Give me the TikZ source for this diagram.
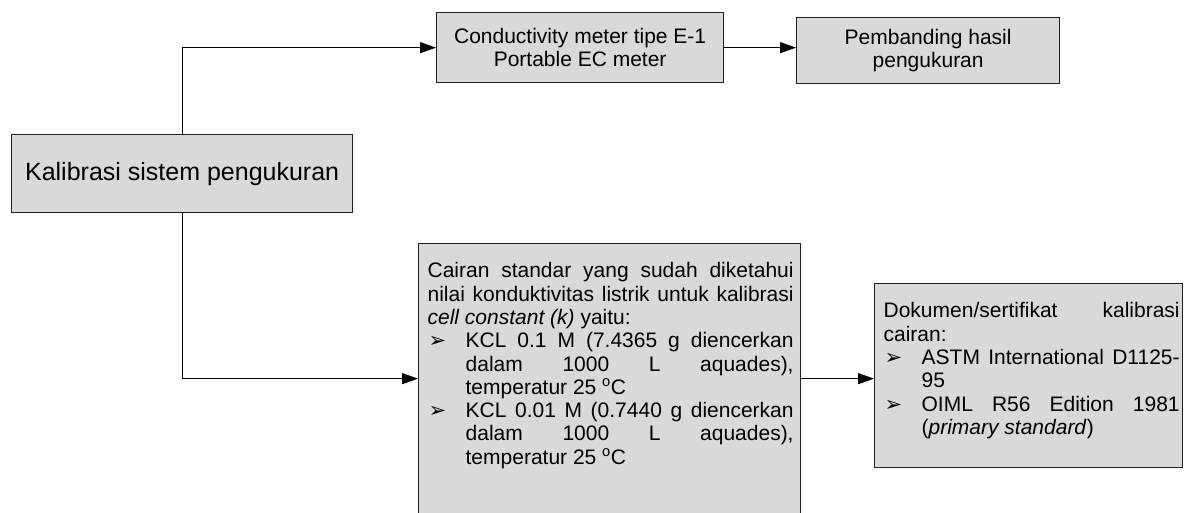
\documentclass[tikz,border=0pt]{standalone}
\usepackage{fontspec}
\setmainfont{Liberation Sans}
\newfontfamily\symfont{DejaVu Sans}
\usetikzlibrary{arrows.meta}
\definecolor{boxfill}{RGB}{217,217,217}
\definecolor{boxline}{RGB}{34,34,34}
\newcommand{\bul}{\makebox[38pt][l]{\hspace{1pt}{\symfont\fontsize{21}{21}\selectfont ➢}}}
\newcommand{\ind}{\hspace*{38pt}}
\begin{document}
\begin{tikzpicture}[x=1pt,y=-1pt,
  box/.style={draw=boxline, fill=boxfill, line width=1.3pt, rectangle, inner sep=0pt, anchor=north west},
  conn/.style={line width=1.1pt, -{Triangle[length=16pt,width=11pt]}},
  txt/.style={font=\fontsize{21}{23.3}\selectfont}]
\useasboundingbox (0,0) rectangle (1184,512);
\clip (0,0) rectangle (1184,512);

\node[box, minimum width=341pt, minimum height=78pt, font=\fontsize{25}{28}\selectfont] (kal) at (11,134) {Kalibrasi sistem pengukuran};

\node[box, minimum width=287pt, minimum height=70pt, txt, align=center] (cond) at (436,12) {Conductivity meter tipe E-1\\Portable EC meter};

\node[box, minimum width=263pt, minimum height=66pt, txt, align=center] (pemb) at (796,17) {Pembanding hasil\\pengukuran};

\node[box, txt] (cair) at (418,243) {\parbox[c][270pt][t]{382pt}{\leftskip=9pt
\vspace*{19pt}
\makebox[366pt][s]{Cairan standar yang sudah diketahui}\\
\makebox[366pt][s]{nilai konduktivitas listrik untuk kalibrasi}\\
\textit{cell constant (k)} yaitu:\\
\bul\makebox[328pt][s]{KCL 0.1 M (7.4365 g diencerkan}\\
\ind\makebox[328pt][s]{dalam 1000 L aquades),}\\
\ind temperatur 25 \textsuperscript{o}C\\
\bul\makebox[328pt][s]{KCL 0.01 M (0.7440 g diencerkan}\\
\ind\makebox[328pt][s]{dalam 1000 L aquades),}\\
\ind temperatur 25 \textsuperscript{o}C}};

\node[box, txt] (dok) at (874,283) {\parbox[c][184pt][t]{308pt}{\leftskip=9pt
\vspace*{19pt}
\makebox[296pt][s]{Dokumen/sertifikat kalibrasi}\\
cairan:\\
\bul\makebox[258pt][s]{ASTM International D1125-}\\
\ind 95\\
\bul\makebox[258pt][s]{OIML R56 Edition 1981}\\
\ind(\textit{primary standard})}};

\draw[conn] (kal.north) |- (cond.west);
\draw[conn] (kal.south) |- (cair.west);
\draw[conn] (cond.east) -- (cond.east -| pemb.west);
\draw[conn] (cair.east) -- (cair.east -| dok.west);
\end{tikzpicture}
\end{document}
